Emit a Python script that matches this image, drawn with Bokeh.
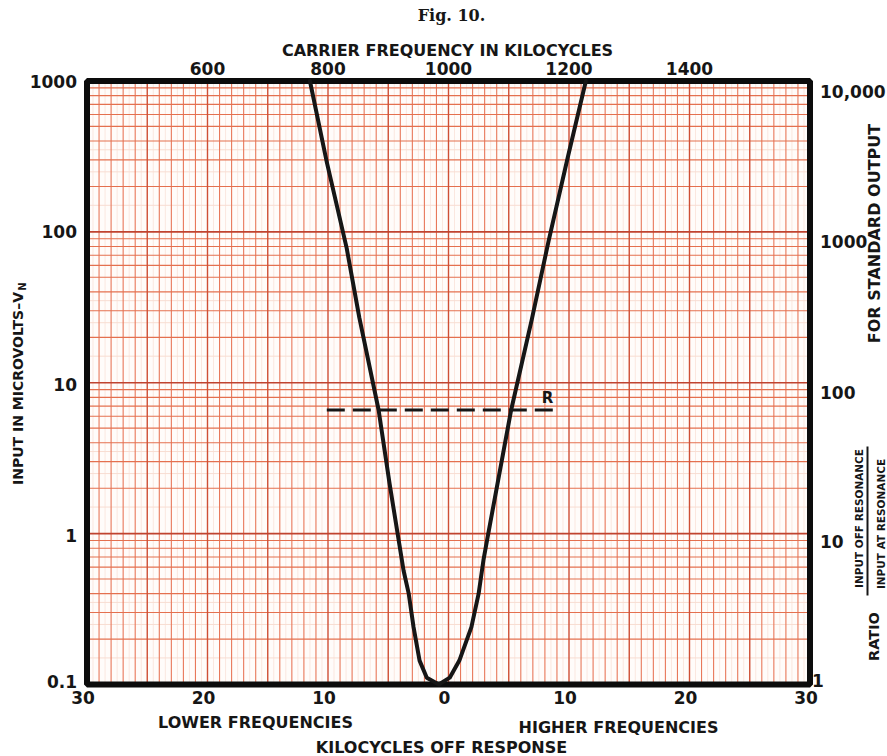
import math
from bokeh.plotting import figure
from bokeh.models import Range1d, LogScale
from bokeh.core.properties import value
from bokeh.embed import file_html
from bokeh.resources import INLINE

# ---------------- data ----------------
kc_off   = [-11.5, -10.1, -8.45, -7.4, -5.8, -4.9, -3.73, -3.3, -2.9, -2.4, -1.8, -0.8,
            0.1, 0.9, 1.9, 2.5, 2.9, 3.3, 5.2, 6.9, 8.3, 9.9, 11.4]
input_uv = [1000, 290, 78, 27, 6.6, 2.17, 0.57, 0.40, 0.24, 0.144, 0.111, 0.1,
            0.111, 0.144, 0.24, 0.40, 0.667, 1.0, 6.6, 26, 86.5, 312, 1000]

r_line_kc = [-10.1, 8.7]
r_line_uv = [6.6, 6.6]

bottom_ticks  = [-30, -20, -10, 0, 10, 20, 30]
bottom_labels = ["30", "20", "10", "0", "10", "20", "30"]
top_ticks     = [600, 800, 1000, 1200, 1400]
top_labels    = ["600", "800", "1000", "1200", "1400"]
left_ticks    = [0.1, 1, 10, 100, 1000]
left_labels   = ["0.1", "1", "10", "100", "1000"]
right_ticks   = [1, 10, 100, 1000, 10000]
right_labels  = ["1", "10", "100", "1000", "10,000"]

KC_MIN, KC_MAX = -30, 30
UV_MIN, UV_MAX = 0.1, 1000

# ---------------- canvas calibration (graph paper inside the page) ----------------
W, H = 887, 756
PX_L, PX_R = 86.5, 809.5      # pixel columns of -30 / +30 kc
PY_T, PY_B = 80.5, 684.0      # pixel rows of 1000 / 0.1 uV
kc_per_px = (KC_MAX - KC_MIN) / (PX_R - PX_L)
dec_per_px = (math.log10(UV_MAX) - math.log10(UV_MIN)) / (PY_B - PY_T)
x0 = KC_MIN - PX_L * kc_per_px
x1 = KC_MAX + (W - PX_R) * kc_per_px
ly1 = math.log10(UV_MAX) + PY_T * dec_per_px
ly0 = math.log10(UV_MIN) - (H - PY_B) * dec_per_px

def dx(px):
    return KC_MIN + (px - PX_L) * kc_per_px

def dy(py):
    return 10 ** (math.log10(UV_MAX) - (py - PY_T) * dec_per_px)

FONT = "DejaVu Sans"
INK = "#161616"

p = figure(frame_width=W, frame_height=H, x_range=Range1d(x0, x1),
           y_range=Range1d(10 ** ly0, 10 ** ly1), y_axis_type="log",
           x_axis_location=None, y_axis_location=None,
           output_backend="svg", toolbar_location=None,
           min_border=0)
p.grid.visible = False
p.outline_line_color = None
p.background_fill_color = "white"
p.border_fill_color = "white"

# carrier frequency scale (top) and ratio scale (right)
p.extra_x_ranges = {"carrier": Range1d(1000 + 20 * x0, 1000 + 20 * x1)}
p.extra_y_ranges = {"ratio": Range1d(10 * 10 ** ly0, 10 * 10 ** ly1)}
p.extra_y_scales = {"ratio": LogScale()}

# ---------------- graph paper ----------------
p.quad(left=[KC_MIN], right=[KC_MAX], bottom=[UV_MIN], top=[UV_MAX],
       fill_color="#fffcfa", line_color=None)

def vlines(ticks, color, width):
    p.segment(x0=ticks, x1=ticks, y0=[UV_MIN] * len(ticks), y1=[UV_MAX] * len(ticks),
              line_color=color, line_width=width)

def hlines(ticks, color, width):
    p.segment(x0=[KC_MIN] * len(ticks), x1=[KC_MAX] * len(ticks), y0=ticks, y1=ticks,
              line_color=color, line_width=width)

half_kc = [k + 0.5 for k in range(KC_MIN, KC_MAX)]
one_kc = [k for k in range(KC_MIN + 1, KC_MAX) if k % 5 != 0]
five_kc = [k for k in range(KC_MIN + 5, KC_MAX, 5)]
decades = [0.1, 1, 10, 100]
y_faint = [d * m for d in decades for m in (1.5, 2.5, 3.5)]
y_minor = [d * m for d in decades for m in range(2, 10)]
y_major = [1, 10, 100]

vlines(half_kc, "#fbe7df", 1)
hlines(y_faint, "#f8ddd2", 1)
vlines(one_kc, "#e8785a", 1.1)
hlines(y_minor, "#e4704f", 1.1)
vlines(five_kc, "#cf4f35", 1.4)
hlines(y_major, "#c0432f", 1.6)

# heavy black border of the chart
p.quad(left=[KC_MIN], right=[KC_MAX], bottom=[UV_MIN], top=[UV_MAX],
       fill_color=None, line_color="#0c0c0c", line_width=6)

# ---------------- curve and reference line ----------------
p.line(r_line_kc, r_line_uv, line_color=INK, line_width=3, line_dash="18 8")
p.line(kc_off, input_uv, line_color=INK, line_width=4, line_join="round", line_cap="round")

# ---------------- tick labels ----------------
TICK = dict(text_font=value(FONT), text_font_style="bold", text_font_size="17px",
            text_color=INK, text_baseline="middle")
p.text(x=bottom_ticks, y=[UV_MIN] * len(bottom_ticks), text=bottom_labels,
       x_offset=-4, y_offset=13, text_align="center", **TICK)
p.text(x=top_ticks, y=[UV_MAX] * len(top_ticks), text=top_labels, x_range_name="carrier",
       x_offset=0, y_offset=-12.5, text_align="center", **TICK)
left_dy = [-3, 2, 2, 0, 0]
p.text(x=[KC_MIN] * len(left_ticks), y=left_ticks, text=left_labels,
       x_offset=-10, y_offset=left_dy, text_align="right", **TICK)
right_dx = [2, 10, 10, 10, 10]
right_dy = [-4, 8, 10, 10, 10]
p.text(x=[KC_MAX] * len(right_ticks), y=right_ticks, text=right_labels, y_range_name="ratio",
       x_offset=right_dx, y_offset=right_dy, text_align="left", **TICK)

# ---------------- titles ----------------
def put(px, py, text, size="16px", angle=0.0, font=FONT, align="center"):
    p.text(x=[dx(px)], y=[dy(py)], text=[text], angle=angle, text_font=value(font),
           text_font_style="bold", text_font_size=size, text_color=INK,
           text_align=align, text_baseline="middle")

VERT = math.pi / 2
put(451, 15, "Fig. 10.", size="16px", font="DejaVu Serif")
put(447, 50, "CARRIER FREQUENCY IN KILOCYCLES", size="16px")
put(255, 722, "LOWER FREQUENCIES", size="16px")
put(618, 727, "HIGHER FREQUENCIES", size="16px")
put(441, 747, "KILOCYCLES OFF RESPONSE", size="16px")
put(547, 397, "R", size="15px")
put(17, 388, "INPUT IN MICROVOLTS\u2013V", size="14px", angle=VERT)
put(22, 286, "N", size="10px", angle=VERT)
put(874, 233, "FOR STANDARD OUTPUT", size="16px", angle=VERT)
put(858, 518, "INPUT OFF RESONANCE", size="10.5px", angle=VERT)
put(880, 518, "INPUT  AT   RESONANCE", size="10.5px", angle=VERT)
put(873, 636, "RATIO", size="14.5px", angle=VERT)
p.line([dx(867), dx(867)], [dy(446), dy(595)], line_color=INK, line_width=2)

open("out.html", "w").write(file_html(p, INLINE))
